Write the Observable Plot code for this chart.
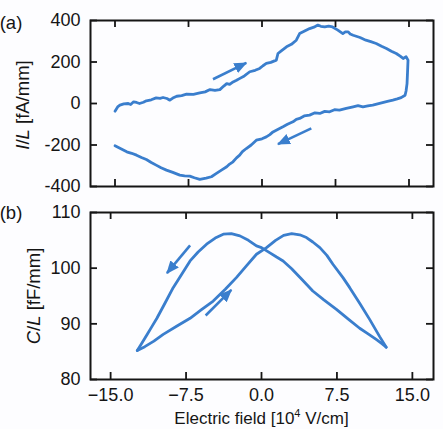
<!DOCTYPE html>
<html><head><meta charset="utf-8">
<script src="https://cdn.jsdelivr.net/npm/d3@7"></script>
<script src="https://cdn.jsdelivr.net/npm/@observablehq/plot@0.6"></script>
<style>
body{margin:0;background:#fdfdff;}
#chart{position:relative;width:443px;height:429px;font-family:"Liberation Sans",Arial,sans-serif;}
#chart svg{position:absolute;left:0;overflow:visible;}
</style></head><body><div id="chart"></div>
<script>
// ---- Panel (a): current per length vs electric field (loop) ----
const loopField = [-15.0,-14.7,-14.5,-14.1,-13.65,-13.4,-13.1,-12.8,-12.5,-12.1,-11.8,-11.3,-10.8,-10.4,-10.1,-9.7,-9.4,-9.1,-8.7,-8.2,-7.7,-7.0,-6.35,-5.8,-5.3,-4.8,-4.3,-3.9,-3.6,-3.3,-2.95,-2.6,-2.3,-1.8,-1.25,-0.7,-0.24,0.1,0.44,0.9,1.46,1.63,2.0,2.5,3.0,3.5,3.84,4.3,4.86,5.3,5.7,6.0,6.4,6.8,7.2,7.7,8.25,8.5,8.8,9.0,9.3,10.0,10.6,11.1,11.65,12.2,12.7,13.2,13.7,14.1,14.4,14.7,14.9,
  14.85,14.8,14.7,14.6,14.2,13.8,13.35,12.8,12.3,11.8,11.3,10.8,10.3,9.8,9.3,8.6,7.9,7.4,6.9,6.4,5.9,5.4,4.86,4.3,3.84,3.5,3.16,2.6,2.14,1.6,1.12,0.8,0.44,0,-0.58,-1.1,-1.6,-2.0,-2.28,-2.6,-2.96,-3.3,-3.6,-4.1,-4.65,-5.16,-5.7,-6.35,-6.9,-7.37,-7.9,-8.39,-9.1,-9.75,-10.3,-10.8,-11.3,-11.8,-12.3,-12.8,-13.3,-13.8,-14.4,-15.0];
const loopCurrent = [-37,-15,-8,-2,0,-5,8,5,0,6,13,18,27,25,29,24,16,26,35,38,45,44,51,56,67,63,67,84,96,92,104,112,120,133,153,160,169,182,193,198,209,241,255,273,285,305,337,348,361,368,378,372,369,373,369,355,337,345,345,335,329,318,305,298,289,276,265,252,241,228,217,225,209,
  150,96,60,40,28,22,16,10,4,-2,-8,-12,-16,-10,-16,-24,-32,-30,-40,-38,-48,-45,-56,-60,-72,-76,-88,-100,-112,-125,-137,-150,-161,-170,-177,-200,-217,-232,-249,-262,-281,-292,-305,-320,-337,-353,-360,-366,-358,-350,-349,-345,-332,-321,-310,-297,-284,-270,-260,-249,-240,-233,-218,-204];
const arrowsA = [
  {x1: -5.0, y1: 117, x2: -1.6, y2: 196},
  {x1: 5.03, y1: -120, x2: 1.63, y2: -196}
];
const yTicksA = [-400, -200, 0, 200, 400];

// ---- Panel (b): capacitance per length vs electric field ----
const downField = [-12.35,-11.9,-11.4,-10.9,-10.4,-9.6,-8.78,-7.9,-7.1,-6.3,-5.46,-4.6,-3.8,-3.0,-2.15,-1.3,-0.5,0,0.8,1.5,2.15,3.0,4.0,5.1,6.2,7.45,8.6,9.76,10.6,11.4,12.0,12.4];
const downCap   = [85.2,86.5,88.0,89.5,91.0,93.7,96.5,99.0,101.3,102.9,104.3,105.4,106.1,106.2,105.8,105.0,104.0,103.7,102.8,102.0,101.3,99.9,98.0,95.9,94.3,92.6,90.9,89.2,88.2,87.2,86.4,85.8];
const upField = [-12.35,-11.6,-10.7,-9.77,-8.4,-7.1,-6.0,-4.8,-3.6,-2.5,-1.5,-0.5,0.5,1.4,2.2,3.0,3.8,4.47,5.1,5.8,6.5,7.1,8.1,8.77,9.76,10.75,11.75,12.4];
const upCap   = [85.2,85.9,86.9,88.1,89.6,91.0,92.5,94.1,96.2,98.3,100.4,102.5,103.7,105.0,105.9,106.2,106.0,105.5,104.7,103.7,102.3,100.7,98.3,96.5,93.7,90.8,87.7,85.8];
const arrowsB = [
  {x1: -7.1, y1: 104.1, x2: -9.4, y2: 99.1},
  {x1: -5.55, y1: 91.5, x2: -3.0, y2: 96.1}
];
const yTicksB = [80, 90, 100, 110];
const xTicks = [-15, -7.5, 0, 7.5, 15];

const blue = "#3a7ecd";
const ink = "#151515";
const W = 443, ML = 90, MR = 10;
const FW = W - ML - MR;
const TL = 7;

const dataA = loopField.map((e, i) => ({e, v: loopCurrent[i]}));
const dataDown = downField.map((e, i) => ({e, v: downCap[i]}));
const dataUp = upField.map((e, i) => ({e, v: upCap[i]}));

function styleMarkers(svg) {
  d3.select(svg).selectAll("marker").each(function() {
    const m = d3.select(this);
    m.attr("viewBox", "-12 -6 13 12").attr("markerUnits", "userSpaceOnUse")
     .attr("markerWidth", 13).attr("markerHeight", 12)
     .attr("refX", 0).attr("refY", 0)
     .attr("fill", blue).attr("stroke", "none");
    m.selectAll("*").remove();
    m.append("path").attr("d", "M-12,-5.5L1,0L-12,5.5Z");
  });
}

function tickMarks(FH, yt) {
  return [
    Plot.tickX(xTicks, {x: d => d, insetTop: FH - TL, stroke: ink, strokeWidth: 1.8}),
    Plot.tickX(xTicks, {x: d => d, insetBottom: FH - TL, stroke: ink, strokeWidth: 1.8}),
    Plot.tickY(yt, {y: d => d, insetRight: FW - TL, stroke: ink, strokeWidth: 1.8}),
    Plot.tickY(yt, {y: d => d, insetLeft: FW - TL, stroke: ink, strokeWidth: 1.8})
  ];
}

const baseStyle = {background: "transparent", fontFamily: '"Liberation Sans", Arial, sans-serif', fontSize: "18px", color: ink};

// Panel (a)
const HA = 200, MTA = 20, MBA = 14, FHA = HA - MTA - MBA;
const plotA = Plot.plot({
  width: W, height: HA, marginLeft: ML, marginRight: MR, marginTop: MTA, marginBottom: MBA,
  style: baseStyle,
  x: {domain: [-17.5, 17.5], axis: null},
  y: {domain: [-400, 400], axis: null},
  marks: [
    Plot.line(dataA, {x: "e", y: "v", stroke: blue, strokeWidth: 2.8, strokeLinejoin: "round"}),
    Plot.link(arrowsA, {x1: "x1", y1: "y1", x2: "x2", y2: "y2", stroke: blue, strokeWidth: 2.6, markerEnd: "arrow"}),
    ...tickMarks(FHA, yTicksA),
    Plot.axisY({ticks: yTicksA, tickSize: 0, tickPadding: 10, tickFormat: d => String(d), label: null}),
    Plot.frame({stroke: ink, strokeWidth: 2})
  ]
});
plotA.style.top = "0px";
styleMarkers(plotA);

// Panel (b)
const HB = 229, MTB = 12, MBB = 50, FHB = HB - MTB - MBB;
const plotB = Plot.plot({
  width: W, height: HB, marginLeft: ML, marginRight: MR, marginTop: MTB, marginBottom: MBB,
  style: baseStyle,
  x: {domain: [-17, 17.1], axis: null},
  y: {domain: [80, 110], axis: null},
  marks: [
    Plot.line(dataDown, {x: "e", y: "v", stroke: blue, strokeWidth: 2.8, strokeLinejoin: "round"}),
    Plot.line(dataUp, {x: "e", y: "v", stroke: blue, strokeWidth: 2.8, strokeLinejoin: "round"}),
    Plot.link(arrowsB, {x1: "x1", y1: "y1", x2: "x2", y2: "y2", stroke: blue, strokeWidth: 2.6, markerEnd: "arrow"}),
    ...tickMarks(FHB, yTicksB),
    Plot.axisY({ticks: yTicksB, tickSize: 0, tickPadding: 10, tickFormat: d => String(d), label: null}),
    Plot.axisX({ticks: xTicks, tickSize: 0, tickPadding: 9, tickFormat: d3.format(".1f"), label: null}),
    Plot.frame({stroke: ink, strokeWidth: 2})
  ]
});
plotB.style.top = "200px";
styleMarkers(plotB);

// Labels
function addYLabel(svg, cx, cy, italicA, italicB, unit) {
  const t = d3.select(svg).append("text")
    .attr("transform", `translate(${cx},${cy}) rotate(-90)`)
    .attr("text-anchor", "middle").attr("dy", "0.35em")
    .attr("font-size", 18.5).attr("fill", ink);
  t.append("tspan").attr("font-style", "italic").text(italicA);
  t.append("tspan").text("/");
  t.append("tspan").attr("font-style", "italic").text(italicB);
  t.append("tspan").text(" " + unit);
}
addYLabel(plotA, 23, 105, "I", "L", "[fA/mm]");
addYLabel(plotB, 34, 96, "C", "L", "[fF/mm]");

d3.select(plotA).append("text").attr("x", 11).attr("y", 29).attr("font-size", 18.5).attr("fill", ink).text("(a)");
d3.select(plotB).append("text").attr("x", 11).attr("y", 19).attr("font-size", 18.5).attr("fill", ink).text("(b)");

const xt = d3.select(plotB).append("text").attr("x", (ML + W - MR) / 2).attr("y", 224)
  .attr("text-anchor", "middle").attr("font-size", 17).attr("fill", ink);
xt.append("tspan").text("Electric field [10");
xt.append("tspan").attr("font-size", 11).attr("dy", -7).text("4");
xt.append("tspan").attr("dy", 7).text(" V/cm]");

const chart = document.getElementById("chart");
chart.appendChild(plotA);
chart.appendChild(plotB);
</script></body></html>
